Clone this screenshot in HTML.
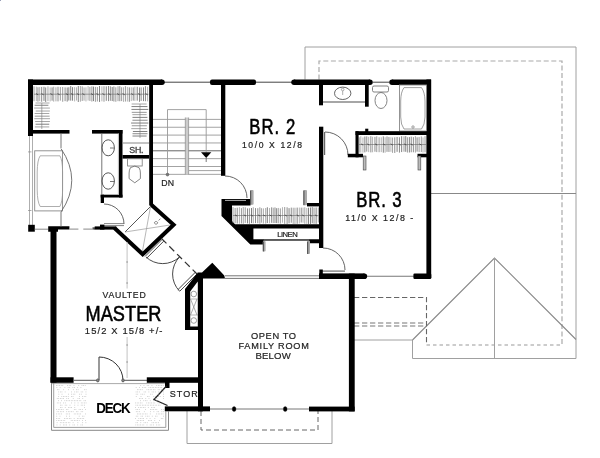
<!DOCTYPE html>
<html><head><meta charset="utf-8"><style>
html,body{margin:0;padding:0;background:#fff;}
body{width:600px;height:458px;overflow:hidden;}
svg{display:block;will-change:transform;}
text{font-family:"Liberation Sans",sans-serif;}
</style></head><body>
<svg width="600" height="458" viewBox="0 0 600 458">
<rect width="600" height="458" fill="#fff"/>
<polyline points="305,79.5 305,47 576,47 576,358.5 412.5,358.5 412.5,340 354,340" fill="none" stroke="#a0a0a0" stroke-width="1" stroke-linejoin="miter" stroke-linecap="butt"/>
<polyline points="319,79.5 319,61 562,61 562,345" fill="none" stroke="#aaa" stroke-width="1.2" stroke-linejoin="miter" stroke-linecap="butt" stroke-dasharray="5,2.6"/>
<line x1="426.5" y1="345" x2="562" y2="345" stroke="#999" stroke-width="1" stroke-dasharray="3.5,3"/>
<line x1="431" y1="193.5" x2="576" y2="193.5" stroke="#888" stroke-width="1.1"/>
<polyline points="412.5,340 494.5,258 576,339.5" fill="none" stroke="#888" stroke-width="1.1" stroke-linejoin="miter" stroke-linecap="butt"/>
<line x1="494.5" y1="258" x2="494.5" y2="358.5" stroke="#a0a0a0" stroke-width="1"/>
<polyline points="354,297.5 426.5,297.5 426.5,345" fill="none" stroke="#666" stroke-width="1.1" stroke-linejoin="miter" stroke-linecap="butt" stroke-dasharray="5.3,2.7"/>
<line x1="354" y1="323" x2="426.5" y2="323" stroke="#777" stroke-width="1.1" stroke-dasharray="5.3,2.7"/>
<line x1="354" y1="326" x2="426.5" y2="326" stroke="#777" stroke-width="1.1" stroke-dasharray="5.3,2.7"/>
<polyline points="187,411 187,443.5 332,443.5 332,411" fill="none" stroke="#a0a0a0" stroke-width="1" stroke-linejoin="miter" stroke-linecap="butt"/>
<polyline points="201,411 201,430 318,430 318,411" fill="none" stroke="#666" stroke-width="1" stroke-linejoin="miter" stroke-linecap="butt" stroke-dasharray="5,3"/>
<rect x="28" y="79.5" width="134" height="5.5" fill="#000"/>
<line x1="164" y1="82.2" x2="210" y2="82.2" stroke="#444" stroke-width="1"/>
<rect x="210" y="79.5" width="46" height="5.5" rx="2" fill="#000"/>
<line x1="256" y1="82.2" x2="292" y2="82.2" stroke="#444" stroke-width="1"/>
<circle cx="162" cy="82.25" r="2.75" fill="#000"/>
<circle cx="294" cy="82.25" r="2.75" fill="#000"/>
<circle cx="370" cy="82.25" r="2.75" fill="#000"/>
<circle cx="392" cy="82.25" r="2.75" fill="#000"/>
<rect x="294" y="79.5" width="76" height="5.5" fill="#000"/>
<line x1="372" y1="82.2" x2="390" y2="82.2" stroke="#444" stroke-width="1"/>
<rect x="392" y="79.5" width="39" height="5.5" fill="#000"/>
<rect x="426.4" y="79.5" width="4.8" height="198.5" fill="#000"/>
<rect x="319" y="273.4" width="45.5" height="5.6" fill="#000"/>
<circle cx="364.4" cy="276.2" r="2.8" fill="#000"/>
<line x1="367" y1="276.2" x2="414" y2="276.2" stroke="#777" stroke-width="1.1"/>
<rect x="413.4" y="273.5" width="17.9" height="5.5" rx="1.2" fill="#000"/>
<rect x="28" y="79.5" width="5" height="56.5" fill="#000"/>
<line x1="29.5" y1="136" x2="29.5" y2="225" stroke="#999" stroke-width="0.8"/>
<line x1="32.5" y1="136" x2="32.5" y2="225" stroke="#999" stroke-width="0.8"/>
<rect x="28.2" y="224.8" width="6.6" height="6.9" fill="#000"/>
<line x1="34.8" y1="229.2" x2="48.2" y2="229.2" stroke="#888" stroke-width="1"/>
<polygon points="48.2,226.25 69.4,226.25 69.4,229.6 58,229.6 58,231.7 48.2,231.7" fill="#000"/>
<rect x="50.5" y="231" width="6" height="151.6" fill="#000"/>
<rect x="50.5" y="377.3" width="23.1" height="5.5" fill="#000"/>
<line x1="73.6" y1="380.3" x2="99" y2="380.3" stroke="#555" stroke-width="1"/>
<line x1="123" y1="380.3" x2="147" y2="380.3" stroke="#555" stroke-width="1"/>
<rect x="146.8" y="377.3" width="51.2" height="5.5" fill="#000"/>
<line x1="99" y1="357" x2="99" y2="380" stroke="#555" stroke-width="1.2"/>
<path d="M99,357 A24,23.5 0 0 1 123,380.5" fill="none" stroke="#333" stroke-width="1"/>
<ellipse cx="97.8" cy="380.4" rx="1.3" ry="1.5" fill="#888" stroke="#555" stroke-width="0.8"/>
<ellipse cx="123" cy="380.4" rx="1.3" ry="1.5" fill="#888" stroke="#555" stroke-width="0.8"/>
<line x1="51.5" y1="383.6" x2="168.5" y2="383.6" stroke="#aaa" stroke-width="1"/>
<rect x="198" y="274" width="5" height="137.3" fill="#000"/>
<rect x="164.8" y="406.4" width="45.2" height="4.9" fill="#000"/>
<rect x="165" y="382" width="4.5" height="6" fill="#000"/>
<polyline points="166.5,386 154,399.5 167.5,405.5" fill="none" stroke="#222" stroke-width="1.3" stroke-linejoin="miter" stroke-linecap="butt"/>
<line x1="210" y1="409" x2="309" y2="409" stroke="#777" stroke-width="1"/>
<ellipse cx="234.1" cy="409" rx="1.9" ry="2.6" fill="#000" stroke="#000" stroke-width="0.3"/>
<ellipse cx="285.2" cy="409" rx="1.9" ry="2.6" fill="#000" stroke="#000" stroke-width="0.3"/>
<rect x="309" y="406.6" width="45.6" height="4.8" fill="#000"/>
<rect x="348.9" y="273.6" width="5.8" height="137.8" fill="#000"/>
<rect x="33" y="130" width="36.5" height="3.6" fill="#000"/>
<rect x="92" y="130" width="30.5" height="3.6" fill="#000"/>
<rect x="149.2" y="85" width="3.8" height="120.5" fill="#000"/>
<rect x="119" y="130" width="3.5" height="67.5" fill="#000"/>
<rect x="100.7" y="194.7" width="21.8" height="2.8" fill="#000"/>
<rect x="100.7" y="194.7" width="3.3" height="8.3" fill="#000"/>
<line x1="101.8" y1="133.6" x2="101.8" y2="195" stroke="#666" stroke-width="0.9"/>
<ellipse cx="108.2" cy="147.8" rx="6.2" ry="8" fill="none" stroke="#444" stroke-width="0.9"/>
<ellipse cx="108.2" cy="181" rx="6.2" ry="8.2" fill="none" stroke="#444" stroke-width="0.9"/>
<line x1="110" y1="148" x2="114.4" y2="148" stroke="#555" stroke-width="0.8"/>
<line x1="110" y1="181.5" x2="114.4" y2="181.5" stroke="#555" stroke-width="0.8"/>
<line x1="118.4" y1="133.6" x2="118.4" y2="194.7" stroke="#aaa" stroke-width="0.8"/>
<line x1="122.5" y1="143" x2="149" y2="143" stroke="#888" stroke-width="1"/>
<rect x="122.5" y="155" width="26.5" height="3.6" fill="#000"/>
<rect x="127" y="160" width="16.4" height="5" fill="none"/>
<rect x="127.6" y="158.8" width="14.6" height="7.2" fill="none" stroke="#777" stroke-width="0.8"/>
<path d="M130.5,167.6 Q134.8,164.6 139,167.6 Q140.5,170 140.4,173 L140.4,178.6 L134.8,182.8 L129.1,178.6 L129.1,173 Q129.1,170 130.5,167.6 Z" fill="none" stroke="#666" stroke-width="0.8"/>
<rect x="34.7" y="150.8" width="27.8" height="60.1" fill="none" stroke="#888" stroke-width="0.9"/>
<path d="M40.2,155.8 L59.9,155.8 Q62.5,160 62.6,172 L62.6,190 Q62.5,202 59.9,206.5 L40.2,206.5 Q37.3,202 37.2,190 L37.2,172 Q37.3,160 40.2,155.8 Z" fill="none" stroke="#999" stroke-width="0.8"/>
<line x1="61" y1="133.6" x2="61" y2="148" stroke="#666" stroke-width="0.9"/>
<line x1="61" y1="212" x2="61" y2="226.5" stroke="#666" stroke-width="0.9"/>
<path d="M61,148.6 Q82.5,180.3 61,212" fill="none" stroke="#666" stroke-width="0.9"/>
<line x1="28" y1="151.9" x2="31.5" y2="151.9" stroke="#888" stroke-width="0.7"/>
<line x1="28" y1="210.5" x2="31.5" y2="210.5" stroke="#888" stroke-width="0.7"/>
<path d="M104,204 A20,20 0 0 1 124,224" fill="none" stroke="#555" stroke-width="0.9"/>
<line x1="104" y1="223.6" x2="124" y2="223.6" stroke="#666" stroke-width="0.8"/>
<line x1="104" y1="225.6" x2="124" y2="225.6" stroke="#666" stroke-width="0.8"/>
<line x1="69.4" y1="229.1" x2="78.4" y2="229.1" stroke="#888" stroke-width="1"/>
<line x1="83.3" y1="229.1" x2="92.5" y2="229.1" stroke="#888" stroke-width="1"/>
<rect x="92.5" y="227.3" width="2.5" height="2.3" fill="#555"/>
<rect x="94.7" y="226.4" width="21.6" height="3.2" fill="#000"/>
<rect x="100" y="224.6" width="4.4" height="5" fill="#000"/>
<polyline points="114.5,228 142.7,254.3 173.6,224.8 151,204.6" fill="none" stroke="#000" stroke-width="4" stroke-linejoin="miter" stroke-linecap="butt"/>
<line x1="125" y1="232" x2="150.5" y2="206.5" stroke="#444" stroke-width="0.9"/>
<line x1="125" y1="232" x2="170" y2="225" stroke="#999" stroke-width="0.7"/>
<line x1="150.5" y1="206.5" x2="142.5" y2="251" stroke="#999" stroke-width="0.7"/>
<path d="M156,221.5 a1.6,1.3 0 1 0 0.1,0 M158.6,220.5 l1.8,-1.8" fill="none" stroke="#555" stroke-width="0.7"/>
<line x1="161.5" y1="238.5" x2="197.5" y2="274.5" stroke="#333" stroke-width="1.2" stroke-dasharray="7,4"/>
<line x1="162" y1="239.5" x2="145" y2="256.5" stroke="#333" stroke-width="0.9"/>
<line x1="163.7" y1="241.2" x2="146.7" y2="258.2" stroke="#333" stroke-width="0.9"/>
<path d="M146,257 A24.5,24.5 0 0 0 179.5,257" fill="none" stroke="#333" stroke-width="0.9"/>
<line x1="197" y1="274" x2="179.6" y2="291.4" stroke="#333" stroke-width="0.9"/>
<line x1="195.3" y1="272.3" x2="177.9" y2="289.7" stroke="#333" stroke-width="0.9"/>
<path d="M179.5,257 A24.5,24.5 0 0 0 179.4,291" fill="none" stroke="#333" stroke-width="0.9"/>
<polygon points="197.5,272.6 202,272.6 212.3,262.8 224.3,275.6 225,278.5 197.5,278.5" fill="#000"/>
<line x1="225" y1="275.8" x2="319" y2="275.8" stroke="#666" stroke-width="0.9"/>
<line x1="225" y1="278.4" x2="319" y2="278.4" stroke="#666" stroke-width="0.9"/>
<polygon points="185,330 185,289 197,273.5 203,273.5 203,330" fill="#000"/>
<polygon points="190.2,326.5 190.2,291.5 197.8,281.5 197.8,326.5" fill="#fff"/>
<ellipse cx="193.8" cy="294" rx="2.8" ry="2.8" fill="none" stroke="#777" stroke-width="0.7"/>
<ellipse cx="193.8" cy="320.5" rx="2.8" ry="2.8" fill="none" stroke="#777" stroke-width="0.7"/>
<line x1="190.5" y1="299" x2="197" y2="315" stroke="#888" stroke-width="0.7"/>
<line x1="197" y1="299" x2="190.5" y2="315" stroke="#888" stroke-width="0.7"/>
<line x1="190" y1="299" x2="198" y2="299" stroke="#888" stroke-width="0.6"/>
<line x1="190" y1="315" x2="198" y2="315" stroke="#888" stroke-width="0.6"/>
<line x1="153" y1="119.4" x2="221" y2="119.4" stroke="#999" stroke-width="0.9"/>
<line x1="153" y1="127.25" x2="221" y2="127.25" stroke="#999" stroke-width="0.9"/>
<line x1="153" y1="135.1" x2="221" y2="135.1" stroke="#999" stroke-width="0.9"/>
<line x1="153" y1="142.95" x2="221" y2="142.95" stroke="#999" stroke-width="0.9"/>
<line x1="153" y1="150.8" x2="221" y2="150.8" stroke="#666" stroke-width="1"/>
<line x1="153" y1="158.65" x2="221" y2="158.65" stroke="#999" stroke-width="0.9"/>
<line x1="153" y1="166.5" x2="221" y2="166.5" stroke="#999" stroke-width="0.9"/>
<line x1="153" y1="174.35" x2="221" y2="174.35" stroke="#999" stroke-width="0.9"/>
<polyline points="167.5,174.6 167.5,109.6 206.2,109.6 206.2,152.5" fill="none" stroke="#999" stroke-width="0.9" stroke-linejoin="miter" stroke-linecap="butt"/>
<line x1="189" y1="170.6" x2="221" y2="170.6" stroke="#999" stroke-width="0.9"/>
<rect x="185.3" y="117.5" width="3.3" height="57" fill="#ccc"/>
<line x1="185.3" y1="117.5" x2="185.3" y2="174.5" stroke="#888" stroke-width="0.7"/>
<line x1="188.6" y1="117.5" x2="188.6" y2="174.5" stroke="#888" stroke-width="0.7"/>
<polygon points="201,152.2 211.3,152.2 206.2,158" fill="#000"/>
<line x1="206.2" y1="158" x2="206.2" y2="162" stroke="#555" stroke-width="0.8"/>
<ellipse cx="167.5" cy="174.6" rx="1.4" ry="1.4" fill="#777" stroke="#555" stroke-width="0.6"/>
<rect x="221" y="85" width="4.3" height="90.8" fill="#000"/>
<path d="M225,176 A22,22 0 0 1 247,198" fill="none" stroke="#555" stroke-width="0.9"/>
<rect x="319" y="85" width="4" height="20.3" fill="#000"/>
<rect x="365" y="85" width="3.7" height="21.7" fill="#000"/>
<line x1="323" y1="102" x2="365" y2="102" stroke="#888" stroke-width="1.4"/>
<ellipse cx="342.7" cy="93.3" rx="8.2" ry="6.2" fill="none" stroke="#555" stroke-width="0.9"/>
<ellipse cx="342.7" cy="89.5" rx="1.3" ry="1.3" fill="none" stroke="#777" stroke-width="0.6"/>
<line x1="342.7" y1="91" x2="342.7" y2="95" stroke="#777" stroke-width="0.6"/>
<rect x="372.5" y="86" width="16" height="6" rx="1.5" fill="none" stroke="#666" stroke-width="0.8"/>
<ellipse cx="381" cy="100.5" rx="6" ry="8" fill="none" stroke="#666" stroke-width="0.8"/>
<rect x="399.5" y="85" width="27" height="46" fill="none" stroke="#888" stroke-width="0.9"/>
<path d="M404,87.6 L421.5,87.6 Q424.8,92 425,101 L425,117 Q424.8,125 421.5,129 L404,129 Q400.8,125 400.7,117 L400.7,101 Q400.8,92 404,87.6 Z" fill="none" stroke="#888" stroke-width="0.8"/>
<ellipse cx="413" cy="127" rx="1.2" ry="1.2" fill="none" stroke="#777" stroke-width="0.7"/>
<rect x="319" y="126.7" width="4.3" height="121.3" fill="#000"/>
<line x1="324.6" y1="132" x2="324.6" y2="155" stroke="#666" stroke-width="1.2"/>
<path d="M325,132 A23,23 0 0 1 348,155" fill="none" stroke="#555" stroke-width="0.9"/>
<rect x="347.8" y="153.8" width="15.2" height="3.5" fill="#000"/>
<rect x="355.5" y="131.2" width="3.1" height="26.1" fill="#000"/>
<rect x="355.5" y="131.2" width="71.5" height="3.8" fill="#000"/>
<rect x="365.2" y="128.7" width="3.1" height="3.3" fill="#000"/>
<rect x="417.5" y="153.8" width="9.5" height="3.5" fill="#000"/>
<rect x="363.2" y="156" width="2.8" height="14" fill="#bbb" stroke="#444" stroke-width="0.6"/>
<rect x="418" y="156" width="2.8" height="14" fill="#bbb" stroke="#444" stroke-width="0.6"/>
<polygon points="221.5,199 250.5,199 250.5,205.5 232,205.5 232,221 235,224.2 319.5,224.2 319.5,228.5 253.4,228.5 253.4,239.3 319.5,239.3 319.5,243.3 309.5,243.3 309.5,240.8 263,240.8 263,244.6 250.3,244.6 221.5,216" fill="#000"/>
<line x1="225" y1="200.4" x2="246" y2="200.4" stroke="#fff" stroke-width="0.7"/>
<line x1="264" y1="240.1" x2="309" y2="240.1" stroke="#888" stroke-width="0.9"/>
<rect x="307" y="203" width="12.6" height="3.4" fill="#000"/>
<rect x="262.8" y="241" width="2.8" height="10.5" rx="1" fill="#aaa"/>
<line x1="263.3" y1="241.5" x2="263.3" y2="251.5" stroke="#444" stroke-width="1"/>
<rect x="307.2" y="241" width="2.8" height="13" rx="1" fill="#aaa"/>
<line x1="307.7" y1="241.5" x2="307.7" y2="254" stroke="#444" stroke-width="1"/>
<rect x="250.2" y="190" width="3.4" height="14.699999999999989" rx="1" fill="#aaa"/>
<line x1="250.7" y1="190.5" x2="250.7" y2="204.7" stroke="#444" stroke-width="1"/>
<rect x="303.4" y="190" width="3.6" height="15.199999999999989" rx="1" fill="#aaa"/>
<line x1="303.9" y1="190.5" x2="303.9" y2="205.2" stroke="#444" stroke-width="1"/>
<path d="M323,248 A22,22 0 0 1 345,270" fill="none" stroke="#555" stroke-width="0.9"/>
<line x1="321" y1="271.1" x2="345" y2="271.1" stroke="#777" stroke-width="1.3"/>
<rect x="319.3" y="269.5" width="3.5" height="4.5" fill="#000"/>
<line x1="34" y1="86.36" x2="34" y2="101.18" stroke="#777" stroke-width="0.75"/>
<line x1="36.33" y1="86.71" x2="36.33" y2="101.13" stroke="#999" stroke-width="0.75"/>
<line x1="37.94" y1="87.26" x2="37.94" y2="101.61" stroke="#666" stroke-width="0.75"/>
<line x1="39.7" y1="87.08" x2="39.7" y2="101.19" stroke="#999" stroke-width="0.75"/>
<line x1="41.68" y1="86.96" x2="41.68" y2="101.77" stroke="#666" stroke-width="0.75"/>
<line x1="43.97" y1="86.78" x2="43.97" y2="100.89" stroke="#555" stroke-width="0.75"/>
<line x1="45.7" y1="87.44" x2="45.7" y2="101.94" stroke="#555" stroke-width="0.75"/>
<line x1="47.96" y1="86.4" x2="47.96" y2="101.11" stroke="#888" stroke-width="0.75"/>
<line x1="50.13" y1="87.38" x2="50.13" y2="101.41" stroke="#999" stroke-width="0.75"/>
<line x1="52.09" y1="87.4" x2="52.09" y2="100.68" stroke="#555" stroke-width="0.75"/>
<line x1="53.71" y1="86.74" x2="53.71" y2="101.61" stroke="#888" stroke-width="0.75"/>
<line x1="55.94" y1="87.28" x2="55.94" y2="101.37" stroke="#888" stroke-width="0.75"/>
<line x1="58" y1="86.8" x2="58" y2="101.39" stroke="#666" stroke-width="0.75"/>
<line x1="60.32" y1="87.02" x2="60.32" y2="100.61" stroke="#777" stroke-width="0.75"/>
<line x1="62.71" y1="87.01" x2="62.71" y2="101.76" stroke="#777" stroke-width="0.75"/>
<line x1="65.08" y1="87.36" x2="65.08" y2="101.15" stroke="#666" stroke-width="0.75"/>
<line x1="67.19" y1="87.48" x2="67.19" y2="101.6" stroke="#555" stroke-width="0.75"/>
<line x1="68.84" y1="87.28" x2="68.84" y2="100.52" stroke="#555" stroke-width="0.75"/>
<line x1="70.72" y1="86.1" x2="70.72" y2="100.65" stroke="#555" stroke-width="0.75"/>
<line x1="72.55" y1="87.15" x2="72.55" y2="100.69" stroke="#555" stroke-width="0.75"/>
<line x1="74.64" y1="87.14" x2="74.64" y2="101.43" stroke="#999" stroke-width="0.75"/>
<line x1="76.5" y1="87.32" x2="76.5" y2="100.53" stroke="#999" stroke-width="0.75"/>
<line x1="78.29" y1="86.05" x2="78.29" y2="101.99" stroke="#555" stroke-width="0.75"/>
<line x1="80.37" y1="86.05" x2="80.37" y2="101.7" stroke="#888" stroke-width="0.75"/>
<line x1="82.2" y1="86.4" x2="82.2" y2="100.97" stroke="#777" stroke-width="0.75"/>
<line x1="84.05" y1="87.44" x2="84.05" y2="100.66" stroke="#888" stroke-width="0.75"/>
<line x1="85.96" y1="87.3" x2="85.96" y2="101.42" stroke="#999" stroke-width="0.75"/>
<line x1="88.1" y1="86.15" x2="88.1" y2="100.54" stroke="#999" stroke-width="0.75"/>
<line x1="89.92" y1="86.95" x2="89.92" y2="100.93" stroke="#777" stroke-width="0.75"/>
<line x1="91.87" y1="86.39" x2="91.87" y2="101.55" stroke="#777" stroke-width="0.75"/>
<line x1="93.48" y1="86.62" x2="93.48" y2="101.13" stroke="#555" stroke-width="0.75"/>
<line x1="95.38" y1="86.88" x2="95.38" y2="101.8" stroke="#777" stroke-width="0.75"/>
<line x1="97.35" y1="87.02" x2="97.35" y2="101.47" stroke="#777" stroke-width="0.75"/>
<line x1="99.54" y1="86.03" x2="99.54" y2="101.91" stroke="#555" stroke-width="0.75"/>
<line x1="101.91" y1="86.38" x2="101.91" y2="101.32" stroke="#999" stroke-width="0.75"/>
<line x1="103.99" y1="86.27" x2="103.99" y2="101.72" stroke="#777" stroke-width="0.75"/>
<line x1="106.27" y1="86.4" x2="106.27" y2="100.82" stroke="#555" stroke-width="0.75"/>
<line x1="108.49" y1="86.04" x2="108.49" y2="101.15" stroke="#666" stroke-width="0.75"/>
<line x1="110.33" y1="86.33" x2="110.33" y2="100.79" stroke="#666" stroke-width="0.75"/>
<line x1="112.2" y1="87.02" x2="112.2" y2="101.03" stroke="#555" stroke-width="0.75"/>
<line x1="113.88" y1="86.48" x2="113.88" y2="101.5" stroke="#666" stroke-width="0.75"/>
<line x1="115.83" y1="87.28" x2="115.83" y2="101.75" stroke="#777" stroke-width="0.75"/>
<line x1="118.02" y1="86.33" x2="118.02" y2="101.15" stroke="#777" stroke-width="0.75"/>
<line x1="119.8" y1="86.18" x2="119.8" y2="101.21" stroke="#666" stroke-width="0.75"/>
<line x1="121.65" y1="87.25" x2="121.65" y2="101.14" stroke="#777" stroke-width="0.75"/>
<line x1="123.53" y1="87.24" x2="123.53" y2="101.87" stroke="#999" stroke-width="0.75"/>
<line x1="125.4" y1="86.19" x2="125.4" y2="101.56" stroke="#777" stroke-width="0.75"/>
<line x1="127.37" y1="86.95" x2="127.37" y2="101.56" stroke="#999" stroke-width="0.75"/>
<line x1="129.3" y1="87.38" x2="129.3" y2="101.77" stroke="#555" stroke-width="0.75"/>
<line x1="131.28" y1="87.25" x2="131.28" y2="101.07" stroke="#999" stroke-width="0.75"/>
<line x1="133.23" y1="87.43" x2="133.23" y2="100.61" stroke="#666" stroke-width="0.75"/>
<line x1="134.86" y1="86.69" x2="134.86" y2="100.87" stroke="#999" stroke-width="0.75"/>
<line x1="137.23" y1="86.82" x2="137.23" y2="100.67" stroke="#555" stroke-width="0.75"/>
<line x1="139.51" y1="87.46" x2="139.51" y2="101.82" stroke="#666" stroke-width="0.75"/>
<line x1="141.15" y1="87.36" x2="141.15" y2="100.96" stroke="#666" stroke-width="0.75"/>
<line x1="143.47" y1="87.35" x2="143.47" y2="101.13" stroke="#555" stroke-width="0.75"/>
<line x1="145.45" y1="86.18" x2="145.45" y2="101.25" stroke="#666" stroke-width="0.75"/>
<line x1="147.58" y1="86.79" x2="147.58" y2="101.38" stroke="#999" stroke-width="0.75"/>
<line x1="34" y1="94.2" x2="148.5" y2="94.2" stroke="#666" stroke-width="0.6"/>
<line x1="36" y1="93.6" x2="38.2" y2="94.8" stroke="#444" stroke-width="0.8"/>
<line x1="41.5" y1="93.6" x2="43.7" y2="94.8" stroke="#444" stroke-width="0.8"/>
<line x1="50.39" y1="93.6" x2="52.59" y2="94.8" stroke="#444" stroke-width="0.8"/>
<line x1="57.55" y1="93.6" x2="59.75" y2="94.8" stroke="#444" stroke-width="0.8"/>
<line x1="65.8" y1="93.6" x2="68" y2="94.8" stroke="#444" stroke-width="0.8"/>
<line x1="71.05" y1="93.6" x2="73.25" y2="94.8" stroke="#444" stroke-width="0.8"/>
<line x1="76.93" y1="93.6" x2="79.13" y2="94.8" stroke="#444" stroke-width="0.8"/>
<line x1="82.42" y1="93.6" x2="84.62" y2="94.8" stroke="#444" stroke-width="0.8"/>
<line x1="90.97" y1="93.6" x2="93.17" y2="94.8" stroke="#444" stroke-width="0.8"/>
<line x1="96.44" y1="93.6" x2="98.64" y2="94.8" stroke="#444" stroke-width="0.8"/>
<line x1="102.4" y1="93.6" x2="104.6" y2="94.8" stroke="#444" stroke-width="0.8"/>
<line x1="108.5" y1="93.6" x2="110.7" y2="94.8" stroke="#444" stroke-width="0.8"/>
<line x1="117.06" y1="93.6" x2="119.26" y2="94.8" stroke="#444" stroke-width="0.8"/>
<line x1="122.57" y1="93.6" x2="124.77" y2="94.8" stroke="#444" stroke-width="0.8"/>
<line x1="131.25" y1="93.6" x2="133.45" y2="94.8" stroke="#444" stroke-width="0.8"/>
<line x1="138.2" y1="93.6" x2="140.4" y2="94.8" stroke="#444" stroke-width="0.8"/>
<line x1="145.49" y1="93.6" x2="147.69" y2="94.8" stroke="#444" stroke-width="0.8"/>
<line x1="35.51" y1="103" x2="49.5" y2="103" stroke="#888" stroke-width="0.75"/>
<line x1="34.65" y1="105.25" x2="48.36" y2="105.25" stroke="#555" stroke-width="0.75"/>
<line x1="34.09" y1="108.06" x2="49.9" y2="108.06" stroke="#888" stroke-width="0.75"/>
<line x1="35.71" y1="111.03" x2="49.83" y2="111.03" stroke="#888" stroke-width="0.75"/>
<line x1="34.63" y1="113.49" x2="49.3" y2="113.49" stroke="#888" stroke-width="0.75"/>
<line x1="34.72" y1="116.16" x2="49.62" y2="116.16" stroke="#777" stroke-width="0.75"/>
<line x1="34.26" y1="118.7" x2="49.99" y2="118.7" stroke="#888" stroke-width="0.75"/>
<line x1="35.13" y1="121.53" x2="49.91" y2="121.53" stroke="#888" stroke-width="0.75"/>
<line x1="35.57" y1="124.21" x2="49.24" y2="124.21" stroke="#555" stroke-width="0.75"/>
<line x1="34.86" y1="126.91" x2="49.26" y2="126.91" stroke="#888" stroke-width="0.75"/>
<line x1="41.8" y1="103" x2="41.8" y2="129" stroke="#777" stroke-width="0.6"/>
<line x1="131.63" y1="104" x2="146.6" y2="104" stroke="#888" stroke-width="0.75"/>
<line x1="131.49" y1="106.57" x2="147.43" y2="106.57" stroke="#555" stroke-width="0.75"/>
<line x1="131.45" y1="109.41" x2="148.24" y2="109.41" stroke="#555" stroke-width="0.75"/>
<line x1="131.75" y1="112.35" x2="146.7" y2="112.35" stroke="#777" stroke-width="0.75"/>
<line x1="132.38" y1="114.65" x2="146.62" y2="114.65" stroke="#888" stroke-width="0.75"/>
<line x1="132.47" y1="117.38" x2="147.37" y2="117.38" stroke="#555" stroke-width="0.75"/>
<line x1="132.43" y1="120.22" x2="147.55" y2="120.22" stroke="#666" stroke-width="0.75"/>
<line x1="131.09" y1="123.04" x2="148.32" y2="123.04" stroke="#555" stroke-width="0.75"/>
<line x1="131.75" y1="125.76" x2="146.86" y2="125.76" stroke="#777" stroke-width="0.75"/>
<line x1="131.24" y1="128.63" x2="146.81" y2="128.63" stroke="#888" stroke-width="0.75"/>
<line x1="132.9" y1="131.49" x2="147.34" y2="131.49" stroke="#555" stroke-width="0.75"/>
<line x1="132.53" y1="133.73" x2="147.48" y2="133.73" stroke="#666" stroke-width="0.75"/>
<line x1="132.5" y1="136.02" x2="146.63" y2="136.02" stroke="#555" stroke-width="0.75"/>
<line x1="140" y1="104" x2="140" y2="138" stroke="#777" stroke-width="0.6"/>
<line x1="359" y1="137.3" x2="359" y2="152.73" stroke="#555" stroke-width="0.75"/>
<line x1="360.79" y1="136.27" x2="360.79" y2="152.63" stroke="#999" stroke-width="0.75"/>
<line x1="362.95" y1="137.41" x2="362.95" y2="152.62" stroke="#999" stroke-width="0.75"/>
<line x1="364.87" y1="136.53" x2="364.87" y2="152.37" stroke="#555" stroke-width="0.75"/>
<line x1="366.77" y1="136.35" x2="366.77" y2="151.61" stroke="#666" stroke-width="0.75"/>
<line x1="368.7" y1="136.85" x2="368.7" y2="152.13" stroke="#999" stroke-width="0.75"/>
<line x1="370.85" y1="136.23" x2="370.85" y2="152.4" stroke="#666" stroke-width="0.75"/>
<line x1="372.58" y1="136.75" x2="372.58" y2="152.27" stroke="#999" stroke-width="0.75"/>
<line x1="374.94" y1="136.88" x2="374.94" y2="151.71" stroke="#666" stroke-width="0.75"/>
<line x1="376.76" y1="136.3" x2="376.76" y2="152.12" stroke="#777" stroke-width="0.75"/>
<line x1="379.1" y1="137.28" x2="379.1" y2="152.19" stroke="#777" stroke-width="0.75"/>
<line x1="381.24" y1="137.28" x2="381.24" y2="152.11" stroke="#999" stroke-width="0.75"/>
<line x1="383.31" y1="136.4" x2="383.31" y2="152.67" stroke="#555" stroke-width="0.75"/>
<line x1="385.12" y1="137.21" x2="385.12" y2="152.7" stroke="#999" stroke-width="0.75"/>
<line x1="387.01" y1="136.48" x2="387.01" y2="151.84" stroke="#666" stroke-width="0.75"/>
<line x1="388.95" y1="137.05" x2="388.95" y2="151.95" stroke="#666" stroke-width="0.75"/>
<line x1="390.92" y1="137.25" x2="390.92" y2="151.77" stroke="#999" stroke-width="0.75"/>
<line x1="392.54" y1="137.49" x2="392.54" y2="152.89" stroke="#888" stroke-width="0.75"/>
<line x1="394.77" y1="137.32" x2="394.77" y2="152.93" stroke="#666" stroke-width="0.75"/>
<line x1="397.08" y1="136.97" x2="397.08" y2="151.83" stroke="#555" stroke-width="0.75"/>
<line x1="399.45" y1="137.28" x2="399.45" y2="152.64" stroke="#666" stroke-width="0.75"/>
<line x1="401.67" y1="136.21" x2="401.67" y2="152.07" stroke="#555" stroke-width="0.75"/>
<line x1="403.99" y1="136.38" x2="403.99" y2="151.7" stroke="#777" stroke-width="0.75"/>
<line x1="405.74" y1="136.14" x2="405.74" y2="151.8" stroke="#555" stroke-width="0.75"/>
<line x1="407.41" y1="137.25" x2="407.41" y2="152.56" stroke="#777" stroke-width="0.75"/>
<line x1="409.37" y1="137.1" x2="409.37" y2="152.5" stroke="#555" stroke-width="0.75"/>
<line x1="411.24" y1="136.65" x2="411.24" y2="152.27" stroke="#666" stroke-width="0.75"/>
<line x1="413.36" y1="137.11" x2="413.36" y2="152.27" stroke="#666" stroke-width="0.75"/>
<line x1="415.39" y1="136.18" x2="415.39" y2="152.59" stroke="#888" stroke-width="0.75"/>
<line x1="417.08" y1="137.33" x2="417.08" y2="151.64" stroke="#555" stroke-width="0.75"/>
<line x1="419.1" y1="137.05" x2="419.1" y2="151.98" stroke="#777" stroke-width="0.75"/>
<line x1="421.31" y1="136.44" x2="421.31" y2="151.99" stroke="#777" stroke-width="0.75"/>
<line x1="423" y1="137.42" x2="423" y2="152.49" stroke="#999" stroke-width="0.75"/>
<line x1="425.02" y1="136.17" x2="425.02" y2="152.26" stroke="#777" stroke-width="0.75"/>
<line x1="359" y1="144.5" x2="426" y2="144.5" stroke="#666" stroke-width="0.6"/>
<line x1="361" y1="143.9" x2="363.2" y2="145.1" stroke="#444" stroke-width="0.8"/>
<line x1="367.18" y1="143.9" x2="369.38" y2="145.1" stroke="#444" stroke-width="0.8"/>
<line x1="375.09" y1="143.9" x2="377.29" y2="145.1" stroke="#444" stroke-width="0.8"/>
<line x1="383.06" y1="143.9" x2="385.26" y2="145.1" stroke="#444" stroke-width="0.8"/>
<line x1="390.64" y1="143.9" x2="392.84" y2="145.1" stroke="#444" stroke-width="0.8"/>
<line x1="398.56" y1="143.9" x2="400.76" y2="145.1" stroke="#444" stroke-width="0.8"/>
<line x1="404.16" y1="143.9" x2="406.36" y2="145.1" stroke="#444" stroke-width="0.8"/>
<line x1="410.64" y1="143.9" x2="412.84" y2="145.1" stroke="#444" stroke-width="0.8"/>
<line x1="419.32" y1="143.9" x2="421.52" y2="145.1" stroke="#444" stroke-width="0.8"/>
<line x1="233" y1="207.16" x2="233" y2="223.16" stroke="#777" stroke-width="0.75"/>
<line x1="235.12" y1="207.97" x2="235.12" y2="223.37" stroke="#777" stroke-width="0.75"/>
<line x1="237.23" y1="207.69" x2="237.23" y2="223.53" stroke="#666" stroke-width="0.75"/>
<line x1="239.4" y1="207.16" x2="239.4" y2="223.73" stroke="#999" stroke-width="0.75"/>
<line x1="241.43" y1="208.11" x2="241.43" y2="223.46" stroke="#777" stroke-width="0.75"/>
<line x1="243.25" y1="207.08" x2="243.25" y2="223.8" stroke="#888" stroke-width="0.75"/>
<line x1="245.25" y1="207.37" x2="245.25" y2="222.85" stroke="#777" stroke-width="0.75"/>
<line x1="247.55" y1="208.42" x2="247.55" y2="223.33" stroke="#555" stroke-width="0.75"/>
<line x1="249.44" y1="208.27" x2="249.44" y2="223.83" stroke="#777" stroke-width="0.75"/>
<line x1="251.51" y1="208.02" x2="251.51" y2="223.15" stroke="#555" stroke-width="0.75"/>
<line x1="253.26" y1="207.28" x2="253.26" y2="223.38" stroke="#888" stroke-width="0.75"/>
<line x1="255.51" y1="208.12" x2="255.51" y2="223.11" stroke="#666" stroke-width="0.75"/>
<line x1="257.8" y1="208.2" x2="257.8" y2="223.18" stroke="#666" stroke-width="0.75"/>
<line x1="259.85" y1="207.3" x2="259.85" y2="223.62" stroke="#777" stroke-width="0.75"/>
<line x1="261.47" y1="208.2" x2="261.47" y2="222.66" stroke="#888" stroke-width="0.75"/>
<line x1="263.33" y1="208.36" x2="263.33" y2="223.54" stroke="#888" stroke-width="0.75"/>
<line x1="265.71" y1="208.03" x2="265.71" y2="223.55" stroke="#888" stroke-width="0.75"/>
<line x1="267.33" y1="207.29" x2="267.33" y2="223.05" stroke="#555" stroke-width="0.75"/>
<line x1="269.55" y1="207.99" x2="269.55" y2="223.26" stroke="#999" stroke-width="0.75"/>
<line x1="271.65" y1="207.3" x2="271.65" y2="222.83" stroke="#666" stroke-width="0.75"/>
<line x1="273.28" y1="207.75" x2="273.28" y2="223.03" stroke="#888" stroke-width="0.75"/>
<line x1="274.97" y1="207.42" x2="274.97" y2="223.01" stroke="#666" stroke-width="0.75"/>
<line x1="276.68" y1="208.19" x2="276.68" y2="223.07" stroke="#555" stroke-width="0.75"/>
<line x1="278.3" y1="207.93" x2="278.3" y2="223.24" stroke="#888" stroke-width="0.75"/>
<line x1="280.33" y1="208.39" x2="280.33" y2="223.52" stroke="#777" stroke-width="0.75"/>
<line x1="282.48" y1="207.2" x2="282.48" y2="222.71" stroke="#999" stroke-width="0.75"/>
<line x1="284.7" y1="207.05" x2="284.7" y2="223.88" stroke="#777" stroke-width="0.75"/>
<line x1="287.1" y1="207.31" x2="287.1" y2="223.9" stroke="#666" stroke-width="0.75"/>
<line x1="289.05" y1="208.14" x2="289.05" y2="223.27" stroke="#555" stroke-width="0.75"/>
<line x1="291.28" y1="207.61" x2="291.28" y2="222.73" stroke="#666" stroke-width="0.75"/>
<line x1="293.2" y1="207.71" x2="293.2" y2="223.9" stroke="#888" stroke-width="0.75"/>
<line x1="294.96" y1="207.73" x2="294.96" y2="223.96" stroke="#888" stroke-width="0.75"/>
<line x1="297.17" y1="207.6" x2="297.17" y2="223.73" stroke="#555" stroke-width="0.75"/>
<line x1="299.34" y1="207.55" x2="299.34" y2="223.44" stroke="#999" stroke-width="0.75"/>
<line x1="301.23" y1="207.6" x2="301.23" y2="222.55" stroke="#666" stroke-width="0.75"/>
<line x1="303.04" y1="207.55" x2="303.04" y2="222.72" stroke="#999" stroke-width="0.75"/>
<line x1="304.8" y1="207.31" x2="304.8" y2="223.74" stroke="#888" stroke-width="0.75"/>
<line x1="306.8" y1="207.96" x2="306.8" y2="223.79" stroke="#999" stroke-width="0.75"/>
<line x1="308.53" y1="207.74" x2="308.53" y2="223.91" stroke="#555" stroke-width="0.75"/>
<line x1="310.46" y1="207.48" x2="310.46" y2="223.95" stroke="#555" stroke-width="0.75"/>
<line x1="312.25" y1="207.06" x2="312.25" y2="223.26" stroke="#666" stroke-width="0.75"/>
<line x1="314.04" y1="207.58" x2="314.04" y2="223.71" stroke="#777" stroke-width="0.75"/>
<line x1="316.14" y1="207.52" x2="316.14" y2="223.81" stroke="#555" stroke-width="0.75"/>
<line x1="318.38" y1="207.44" x2="318.38" y2="222.53" stroke="#888" stroke-width="0.75"/>
<line x1="233" y1="215.5" x2="318.5" y2="215.5" stroke="#666" stroke-width="0.6"/>
<line x1="235" y1="214.9" x2="237.2" y2="216.1" stroke="#444" stroke-width="0.8"/>
<line x1="243.85" y1="214.9" x2="246.05" y2="216.1" stroke="#444" stroke-width="0.8"/>
<line x1="250.8" y1="214.9" x2="253" y2="216.1" stroke="#444" stroke-width="0.8"/>
<line x1="258.05" y1="214.9" x2="260.25" y2="216.1" stroke="#444" stroke-width="0.8"/>
<line x1="263.17" y1="214.9" x2="265.37" y2="216.1" stroke="#444" stroke-width="0.8"/>
<line x1="269.51" y1="214.9" x2="271.71" y2="216.1" stroke="#444" stroke-width="0.8"/>
<line x1="278.48" y1="214.9" x2="280.68" y2="216.1" stroke="#444" stroke-width="0.8"/>
<line x1="284.75" y1="214.9" x2="286.95" y2="216.1" stroke="#444" stroke-width="0.8"/>
<line x1="289.98" y1="214.9" x2="292.18" y2="216.1" stroke="#444" stroke-width="0.8"/>
<line x1="296.72" y1="214.9" x2="298.92" y2="216.1" stroke="#444" stroke-width="0.8"/>
<line x1="302.08" y1="214.9" x2="304.28" y2="216.1" stroke="#444" stroke-width="0.8"/>
<line x1="309.55" y1="214.9" x2="311.75" y2="216.1" stroke="#444" stroke-width="0.8"/>
<line x1="314.97" y1="214.9" x2="317.17" y2="216.1" stroke="#444" stroke-width="0.8"/>
<line x1="127.1" y1="242" x2="127.1" y2="288.5" stroke="#bbb" stroke-width="0.9"/>
<line x1="127.1" y1="337" x2="127.1" y2="378" stroke="#bbb" stroke-width="0.9"/>
<line x1="126.3" y1="262" x2="127.9" y2="262" stroke="#777" stroke-width="0.8"/>
<line x1="126.3" y1="283" x2="127.9" y2="283" stroke="#777" stroke-width="0.8"/>
<line x1="126.3" y1="345" x2="127.9" y2="345" stroke="#777" stroke-width="0.8"/>
<line x1="126.3" y1="362" x2="127.9" y2="362" stroke="#777" stroke-width="0.8"/>
<polyline points="51.5,383 51.5,430.3 168.5,430.3 168.5,411" fill="none" stroke="#888" stroke-width="1" stroke-linejoin="miter" stroke-linecap="butt"/>
<polyline points="53.7,383 53.7,427.4 165.8,427.4 165.8,411" fill="none" stroke="#888" stroke-width="0.8" stroke-linejoin="miter" stroke-linecap="butt"/>
<rect x="56.02" y="385" width="0.7" height="0.7" fill="#aaa"/>
<rect x="57.62" y="385" width="0.7" height="0.7" fill="#aaa"/>
<rect x="59.22" y="385" width="0.7" height="0.7" fill="#aaa"/>
<rect x="60.82" y="385" width="0.7" height="0.7" fill="#aaa"/>
<rect x="62.42" y="385" width="0.7" height="0.7" fill="#aaa"/>
<rect x="67.22" y="385" width="0.7" height="0.7" fill="#aaa"/>
<rect x="68.82" y="385" width="0.7" height="0.7" fill="#aaa"/>
<rect x="70.42" y="385" width="0.7" height="0.7" fill="#aaa"/>
<rect x="73.62" y="385" width="0.7" height="0.7" fill="#aaa"/>
<rect x="78.42" y="385" width="0.7" height="0.7" fill="#aaa"/>
<rect x="81.62" y="385" width="0.7" height="0.7" fill="#aaa"/>
<rect x="83.22" y="385" width="0.7" height="0.7" fill="#aaa"/>
<rect x="84.82" y="385" width="0.7" height="0.7" fill="#aaa"/>
<rect x="56.55" y="387.2" width="0.7" height="0.7" fill="#aaa"/>
<rect x="59.75" y="387.2" width="0.7" height="0.7" fill="#aaa"/>
<rect x="64.55" y="387.2" width="0.7" height="0.7" fill="#aaa"/>
<rect x="67.75" y="387.2" width="0.7" height="0.7" fill="#aaa"/>
<rect x="69.35" y="387.2" width="0.7" height="0.7" fill="#aaa"/>
<rect x="72.55" y="387.2" width="0.7" height="0.7" fill="#aaa"/>
<rect x="74.15" y="387.2" width="0.7" height="0.7" fill="#aaa"/>
<rect x="77.35" y="387.2" width="0.7" height="0.7" fill="#aaa"/>
<rect x="80.55" y="387.2" width="0.7" height="0.7" fill="#aaa"/>
<rect x="56.95" y="389.4" width="0.7" height="0.7" fill="#aaa"/>
<rect x="58.55" y="389.4" width="0.7" height="0.7" fill="#aaa"/>
<rect x="63.35" y="389.4" width="0.7" height="0.7" fill="#aaa"/>
<rect x="68.15" y="389.4" width="0.7" height="0.7" fill="#aaa"/>
<rect x="72.95" y="389.4" width="0.7" height="0.7" fill="#aaa"/>
<rect x="76.15" y="389.4" width="0.7" height="0.7" fill="#aaa"/>
<rect x="77.75" y="389.4" width="0.7" height="0.7" fill="#aaa"/>
<rect x="84.15" y="389.4" width="0.7" height="0.7" fill="#aaa"/>
<rect x="85.75" y="389.4" width="0.7" height="0.7" fill="#aaa"/>
<rect x="58.39" y="391.6" width="0.7" height="0.7" fill="#aaa"/>
<rect x="59.99" y="391.6" width="0.7" height="0.7" fill="#aaa"/>
<rect x="61.59" y="391.6" width="0.7" height="0.7" fill="#aaa"/>
<rect x="64.79" y="391.6" width="0.7" height="0.7" fill="#aaa"/>
<rect x="71.19" y="391.6" width="0.7" height="0.7" fill="#aaa"/>
<rect x="74.39" y="391.6" width="0.7" height="0.7" fill="#aaa"/>
<rect x="75.99" y="391.6" width="0.7" height="0.7" fill="#aaa"/>
<rect x="77.59" y="391.6" width="0.7" height="0.7" fill="#aaa"/>
<rect x="80.79" y="391.6" width="0.7" height="0.7" fill="#aaa"/>
<rect x="82.39" y="391.6" width="0.7" height="0.7" fill="#aaa"/>
<rect x="85.59" y="391.6" width="0.7" height="0.7" fill="#aaa"/>
<rect x="58.48" y="393.8" width="0.7" height="0.7" fill="#aaa"/>
<rect x="61.68" y="393.8" width="0.7" height="0.7" fill="#aaa"/>
<rect x="68.08" y="393.8" width="0.7" height="0.7" fill="#aaa"/>
<rect x="71.28" y="393.8" width="0.7" height="0.7" fill="#aaa"/>
<rect x="72.88" y="393.8" width="0.7" height="0.7" fill="#aaa"/>
<rect x="74.48" y="393.8" width="0.7" height="0.7" fill="#aaa"/>
<rect x="79.28" y="393.8" width="0.7" height="0.7" fill="#aaa"/>
<rect x="80.88" y="393.8" width="0.7" height="0.7" fill="#aaa"/>
<rect x="85.68" y="393.8" width="0.7" height="0.7" fill="#aaa"/>
<rect x="58.26" y="396" width="0.7" height="0.7" fill="#aaa"/>
<rect x="61.46" y="396" width="0.7" height="0.7" fill="#aaa"/>
<rect x="63.06" y="396" width="0.7" height="0.7" fill="#aaa"/>
<rect x="64.66" y="396" width="0.7" height="0.7" fill="#aaa"/>
<rect x="66.26" y="396" width="0.7" height="0.7" fill="#aaa"/>
<rect x="67.86" y="396" width="0.7" height="0.7" fill="#aaa"/>
<rect x="71.06" y="396" width="0.7" height="0.7" fill="#aaa"/>
<rect x="72.66" y="396" width="0.7" height="0.7" fill="#aaa"/>
<rect x="79.06" y="396" width="0.7" height="0.7" fill="#aaa"/>
<rect x="82.26" y="396" width="0.7" height="0.7" fill="#aaa"/>
<rect x="83.86" y="396" width="0.7" height="0.7" fill="#aaa"/>
<rect x="85.46" y="396" width="0.7" height="0.7" fill="#aaa"/>
<rect x="56.84" y="398.2" width="0.7" height="0.7" fill="#aaa"/>
<rect x="58.44" y="398.2" width="0.7" height="0.7" fill="#aaa"/>
<rect x="60.04" y="398.2" width="0.7" height="0.7" fill="#aaa"/>
<rect x="61.64" y="398.2" width="0.7" height="0.7" fill="#aaa"/>
<rect x="63.24" y="398.2" width="0.7" height="0.7" fill="#aaa"/>
<rect x="66.44" y="398.2" width="0.7" height="0.7" fill="#aaa"/>
<rect x="68.04" y="398.2" width="0.7" height="0.7" fill="#aaa"/>
<rect x="72.84" y="398.2" width="0.7" height="0.7" fill="#aaa"/>
<rect x="77.64" y="398.2" width="0.7" height="0.7" fill="#aaa"/>
<rect x="79.24" y="398.2" width="0.7" height="0.7" fill="#aaa"/>
<rect x="82.44" y="398.2" width="0.7" height="0.7" fill="#aaa"/>
<rect x="58.07" y="400.4" width="0.7" height="0.7" fill="#aaa"/>
<rect x="61.27" y="400.4" width="0.7" height="0.7" fill="#aaa"/>
<rect x="64.47" y="400.4" width="0.7" height="0.7" fill="#aaa"/>
<rect x="66.07" y="400.4" width="0.7" height="0.7" fill="#aaa"/>
<rect x="67.67" y="400.4" width="0.7" height="0.7" fill="#aaa"/>
<rect x="69.27" y="400.4" width="0.7" height="0.7" fill="#aaa"/>
<rect x="70.87" y="400.4" width="0.7" height="0.7" fill="#aaa"/>
<rect x="72.47" y="400.4" width="0.7" height="0.7" fill="#aaa"/>
<rect x="74.07" y="400.4" width="0.7" height="0.7" fill="#aaa"/>
<rect x="75.67" y="400.4" width="0.7" height="0.7" fill="#aaa"/>
<rect x="77.27" y="400.4" width="0.7" height="0.7" fill="#aaa"/>
<rect x="78.87" y="400.4" width="0.7" height="0.7" fill="#aaa"/>
<rect x="80.47" y="400.4" width="0.7" height="0.7" fill="#aaa"/>
<rect x="83.67" y="400.4" width="0.7" height="0.7" fill="#aaa"/>
<rect x="85.27" y="400.4" width="0.7" height="0.7" fill="#aaa"/>
<rect x="56.91" y="402.6" width="0.7" height="0.7" fill="#aaa"/>
<rect x="58.51" y="402.6" width="0.7" height="0.7" fill="#aaa"/>
<rect x="60.11" y="402.6" width="0.7" height="0.7" fill="#aaa"/>
<rect x="63.31" y="402.6" width="0.7" height="0.7" fill="#aaa"/>
<rect x="64.91" y="402.6" width="0.7" height="0.7" fill="#aaa"/>
<rect x="71.31" y="402.6" width="0.7" height="0.7" fill="#aaa"/>
<rect x="74.51" y="402.6" width="0.7" height="0.7" fill="#aaa"/>
<rect x="77.71" y="402.6" width="0.7" height="0.7" fill="#aaa"/>
<rect x="80.91" y="402.6" width="0.7" height="0.7" fill="#aaa"/>
<rect x="82.51" y="402.6" width="0.7" height="0.7" fill="#aaa"/>
<rect x="84.11" y="402.6" width="0.7" height="0.7" fill="#aaa"/>
<rect x="85.71" y="402.6" width="0.7" height="0.7" fill="#aaa"/>
<rect x="60.03" y="404.8" width="0.7" height="0.7" fill="#aaa"/>
<rect x="61.63" y="404.8" width="0.7" height="0.7" fill="#aaa"/>
<rect x="64.83" y="404.8" width="0.7" height="0.7" fill="#aaa"/>
<rect x="66.43" y="404.8" width="0.7" height="0.7" fill="#aaa"/>
<rect x="69.63" y="404.8" width="0.7" height="0.7" fill="#aaa"/>
<rect x="74.43" y="404.8" width="0.7" height="0.7" fill="#aaa"/>
<rect x="77.63" y="404.8" width="0.7" height="0.7" fill="#aaa"/>
<rect x="80.83" y="404.8" width="0.7" height="0.7" fill="#aaa"/>
<rect x="82.43" y="404.8" width="0.7" height="0.7" fill="#aaa"/>
<rect x="84.03" y="404.8" width="0.7" height="0.7" fill="#aaa"/>
<rect x="60.04" y="407" width="0.7" height="0.7" fill="#aaa"/>
<rect x="61.64" y="407" width="0.7" height="0.7" fill="#aaa"/>
<rect x="64.84" y="407" width="0.7" height="0.7" fill="#aaa"/>
<rect x="68.04" y="407" width="0.7" height="0.7" fill="#aaa"/>
<rect x="69.64" y="407" width="0.7" height="0.7" fill="#aaa"/>
<rect x="71.24" y="407" width="0.7" height="0.7" fill="#aaa"/>
<rect x="74.44" y="407" width="0.7" height="0.7" fill="#aaa"/>
<rect x="84.04" y="407" width="0.7" height="0.7" fill="#aaa"/>
<rect x="56.34" y="409.2" width="0.7" height="0.7" fill="#aaa"/>
<rect x="57.94" y="409.2" width="0.7" height="0.7" fill="#aaa"/>
<rect x="59.54" y="409.2" width="0.7" height="0.7" fill="#aaa"/>
<rect x="61.14" y="409.2" width="0.7" height="0.7" fill="#aaa"/>
<rect x="62.74" y="409.2" width="0.7" height="0.7" fill="#aaa"/>
<rect x="65.94" y="409.2" width="0.7" height="0.7" fill="#aaa"/>
<rect x="67.54" y="409.2" width="0.7" height="0.7" fill="#aaa"/>
<rect x="73.94" y="409.2" width="0.7" height="0.7" fill="#aaa"/>
<rect x="75.54" y="409.2" width="0.7" height="0.7" fill="#aaa"/>
<rect x="78.74" y="409.2" width="0.7" height="0.7" fill="#aaa"/>
<rect x="80.34" y="409.2" width="0.7" height="0.7" fill="#aaa"/>
<rect x="81.94" y="409.2" width="0.7" height="0.7" fill="#aaa"/>
<rect x="85.14" y="409.2" width="0.7" height="0.7" fill="#aaa"/>
<rect x="56.77" y="411.4" width="0.7" height="0.7" fill="#aaa"/>
<rect x="58.37" y="411.4" width="0.7" height="0.7" fill="#aaa"/>
<rect x="59.97" y="411.4" width="0.7" height="0.7" fill="#aaa"/>
<rect x="61.57" y="411.4" width="0.7" height="0.7" fill="#aaa"/>
<rect x="63.17" y="411.4" width="0.7" height="0.7" fill="#aaa"/>
<rect x="66.37" y="411.4" width="0.7" height="0.7" fill="#aaa"/>
<rect x="67.97" y="411.4" width="0.7" height="0.7" fill="#aaa"/>
<rect x="69.57" y="411.4" width="0.7" height="0.7" fill="#aaa"/>
<rect x="71.17" y="411.4" width="0.7" height="0.7" fill="#aaa"/>
<rect x="72.77" y="411.4" width="0.7" height="0.7" fill="#aaa"/>
<rect x="75.97" y="411.4" width="0.7" height="0.7" fill="#aaa"/>
<rect x="77.57" y="411.4" width="0.7" height="0.7" fill="#aaa"/>
<rect x="80.77" y="411.4" width="0.7" height="0.7" fill="#aaa"/>
<rect x="82.37" y="411.4" width="0.7" height="0.7" fill="#aaa"/>
<rect x="56.27" y="413.6" width="0.7" height="0.7" fill="#aaa"/>
<rect x="57.87" y="413.6" width="0.7" height="0.7" fill="#aaa"/>
<rect x="59.47" y="413.6" width="0.7" height="0.7" fill="#aaa"/>
<rect x="61.07" y="413.6" width="0.7" height="0.7" fill="#aaa"/>
<rect x="65.87" y="413.6" width="0.7" height="0.7" fill="#aaa"/>
<rect x="67.47" y="413.6" width="0.7" height="0.7" fill="#aaa"/>
<rect x="69.07" y="413.6" width="0.7" height="0.7" fill="#aaa"/>
<rect x="73.87" y="413.6" width="0.7" height="0.7" fill="#aaa"/>
<rect x="75.47" y="413.6" width="0.7" height="0.7" fill="#aaa"/>
<rect x="77.07" y="413.6" width="0.7" height="0.7" fill="#aaa"/>
<rect x="78.67" y="413.6" width="0.7" height="0.7" fill="#aaa"/>
<rect x="80.27" y="413.6" width="0.7" height="0.7" fill="#aaa"/>
<rect x="85.07" y="413.6" width="0.7" height="0.7" fill="#aaa"/>
<rect x="56.42" y="415.8" width="0.7" height="0.7" fill="#aaa"/>
<rect x="59.62" y="415.8" width="0.7" height="0.7" fill="#aaa"/>
<rect x="66.02" y="415.8" width="0.7" height="0.7" fill="#aaa"/>
<rect x="69.22" y="415.8" width="0.7" height="0.7" fill="#aaa"/>
<rect x="78.82" y="415.8" width="0.7" height="0.7" fill="#aaa"/>
<rect x="82.02" y="415.8" width="0.7" height="0.7" fill="#aaa"/>
<rect x="83.62" y="415.8" width="0.7" height="0.7" fill="#aaa"/>
<rect x="56.17" y="418" width="0.7" height="0.7" fill="#aaa"/>
<rect x="57.77" y="418" width="0.7" height="0.7" fill="#aaa"/>
<rect x="59.37" y="418" width="0.7" height="0.7" fill="#aaa"/>
<rect x="64.17" y="418" width="0.7" height="0.7" fill="#aaa"/>
<rect x="65.77" y="418" width="0.7" height="0.7" fill="#aaa"/>
<rect x="67.37" y="418" width="0.7" height="0.7" fill="#aaa"/>
<rect x="68.97" y="418" width="0.7" height="0.7" fill="#aaa"/>
<rect x="70.57" y="418" width="0.7" height="0.7" fill="#aaa"/>
<rect x="73.77" y="418" width="0.7" height="0.7" fill="#aaa"/>
<rect x="76.97" y="418" width="0.7" height="0.7" fill="#aaa"/>
<rect x="78.57" y="418" width="0.7" height="0.7" fill="#aaa"/>
<rect x="80.17" y="418" width="0.7" height="0.7" fill="#aaa"/>
<rect x="81.77" y="418" width="0.7" height="0.7" fill="#aaa"/>
<rect x="83.37" y="418" width="0.7" height="0.7" fill="#aaa"/>
<rect x="56.43" y="420.2" width="0.7" height="0.7" fill="#aaa"/>
<rect x="58.03" y="420.2" width="0.7" height="0.7" fill="#aaa"/>
<rect x="59.63" y="420.2" width="0.7" height="0.7" fill="#aaa"/>
<rect x="61.23" y="420.2" width="0.7" height="0.7" fill="#aaa"/>
<rect x="62.83" y="420.2" width="0.7" height="0.7" fill="#aaa"/>
<rect x="64.43" y="420.2" width="0.7" height="0.7" fill="#aaa"/>
<rect x="70.83" y="420.2" width="0.7" height="0.7" fill="#aaa"/>
<rect x="72.43" y="420.2" width="0.7" height="0.7" fill="#aaa"/>
<rect x="74.03" y="420.2" width="0.7" height="0.7" fill="#aaa"/>
<rect x="75.63" y="420.2" width="0.7" height="0.7" fill="#aaa"/>
<rect x="77.23" y="420.2" width="0.7" height="0.7" fill="#aaa"/>
<rect x="78.83" y="420.2" width="0.7" height="0.7" fill="#aaa"/>
<rect x="82.03" y="420.2" width="0.7" height="0.7" fill="#aaa"/>
<rect x="85.23" y="420.2" width="0.7" height="0.7" fill="#aaa"/>
<rect x="56.74" y="422.4" width="0.7" height="0.7" fill="#aaa"/>
<rect x="59.94" y="422.4" width="0.7" height="0.7" fill="#aaa"/>
<rect x="61.54" y="422.4" width="0.7" height="0.7" fill="#aaa"/>
<rect x="63.14" y="422.4" width="0.7" height="0.7" fill="#aaa"/>
<rect x="64.74" y="422.4" width="0.7" height="0.7" fill="#aaa"/>
<rect x="66.34" y="422.4" width="0.7" height="0.7" fill="#aaa"/>
<rect x="67.94" y="422.4" width="0.7" height="0.7" fill="#aaa"/>
<rect x="69.54" y="422.4" width="0.7" height="0.7" fill="#aaa"/>
<rect x="72.74" y="422.4" width="0.7" height="0.7" fill="#aaa"/>
<rect x="77.54" y="422.4" width="0.7" height="0.7" fill="#aaa"/>
<rect x="82.34" y="422.4" width="0.7" height="0.7" fill="#aaa"/>
<rect x="85.54" y="422.4" width="0.7" height="0.7" fill="#aaa"/>
<rect x="56.6" y="424.6" width="0.7" height="0.7" fill="#aaa"/>
<rect x="59.8" y="424.6" width="0.7" height="0.7" fill="#aaa"/>
<rect x="63" y="424.6" width="0.7" height="0.7" fill="#aaa"/>
<rect x="64.6" y="424.6" width="0.7" height="0.7" fill="#aaa"/>
<rect x="66.2" y="424.6" width="0.7" height="0.7" fill="#aaa"/>
<rect x="69.4" y="424.6" width="0.7" height="0.7" fill="#aaa"/>
<rect x="72.6" y="424.6" width="0.7" height="0.7" fill="#aaa"/>
<rect x="74.2" y="424.6" width="0.7" height="0.7" fill="#aaa"/>
<rect x="77.4" y="424.6" width="0.7" height="0.7" fill="#aaa"/>
<rect x="80.6" y="424.6" width="0.7" height="0.7" fill="#aaa"/>
<rect x="82.2" y="424.6" width="0.7" height="0.7" fill="#aaa"/>
<rect x="140.39" y="385" width="0.7" height="0.7" fill="#aaa"/>
<rect x="143.59" y="385" width="0.7" height="0.7" fill="#aaa"/>
<rect x="146.79" y="385" width="0.7" height="0.7" fill="#aaa"/>
<rect x="148.39" y="385" width="0.7" height="0.7" fill="#aaa"/>
<rect x="151.59" y="385" width="0.7" height="0.7" fill="#aaa"/>
<rect x="156.39" y="385" width="0.7" height="0.7" fill="#aaa"/>
<rect x="157.99" y="385" width="0.7" height="0.7" fill="#aaa"/>
<rect x="159.59" y="385" width="0.7" height="0.7" fill="#aaa"/>
<rect x="161.19" y="385" width="0.7" height="0.7" fill="#aaa"/>
<rect x="162.79" y="385" width="0.7" height="0.7" fill="#aaa"/>
<rect x="135.79" y="387.2" width="0.7" height="0.7" fill="#aaa"/>
<rect x="138.99" y="387.2" width="0.7" height="0.7" fill="#aaa"/>
<rect x="142.19" y="387.2" width="0.7" height="0.7" fill="#aaa"/>
<rect x="143.79" y="387.2" width="0.7" height="0.7" fill="#aaa"/>
<rect x="145.39" y="387.2" width="0.7" height="0.7" fill="#aaa"/>
<rect x="148.59" y="387.2" width="0.7" height="0.7" fill="#aaa"/>
<rect x="150.19" y="387.2" width="0.7" height="0.7" fill="#aaa"/>
<rect x="151.79" y="387.2" width="0.7" height="0.7" fill="#aaa"/>
<rect x="153.39" y="387.2" width="0.7" height="0.7" fill="#aaa"/>
<rect x="154.99" y="387.2" width="0.7" height="0.7" fill="#aaa"/>
<rect x="156.59" y="387.2" width="0.7" height="0.7" fill="#aaa"/>
<rect x="158.19" y="387.2" width="0.7" height="0.7" fill="#aaa"/>
<rect x="159.79" y="387.2" width="0.7" height="0.7" fill="#aaa"/>
<rect x="161.39" y="387.2" width="0.7" height="0.7" fill="#aaa"/>
<rect x="136.99" y="389.4" width="0.7" height="0.7" fill="#aaa"/>
<rect x="138.59" y="389.4" width="0.7" height="0.7" fill="#aaa"/>
<rect x="140.19" y="389.4" width="0.7" height="0.7" fill="#aaa"/>
<rect x="141.79" y="389.4" width="0.7" height="0.7" fill="#aaa"/>
<rect x="146.59" y="389.4" width="0.7" height="0.7" fill="#aaa"/>
<rect x="148.19" y="389.4" width="0.7" height="0.7" fill="#aaa"/>
<rect x="149.79" y="389.4" width="0.7" height="0.7" fill="#aaa"/>
<rect x="151.39" y="389.4" width="0.7" height="0.7" fill="#aaa"/>
<rect x="152.99" y="389.4" width="0.7" height="0.7" fill="#aaa"/>
<rect x="154.59" y="389.4" width="0.7" height="0.7" fill="#aaa"/>
<rect x="157.79" y="389.4" width="0.7" height="0.7" fill="#aaa"/>
<rect x="159.39" y="389.4" width="0.7" height="0.7" fill="#aaa"/>
<rect x="160.99" y="389.4" width="0.7" height="0.7" fill="#aaa"/>
<rect x="162.59" y="389.4" width="0.7" height="0.7" fill="#aaa"/>
<rect x="135.73" y="391.6" width="0.7" height="0.7" fill="#aaa"/>
<rect x="137.33" y="391.6" width="0.7" height="0.7" fill="#aaa"/>
<rect x="138.93" y="391.6" width="0.7" height="0.7" fill="#aaa"/>
<rect x="143.73" y="391.6" width="0.7" height="0.7" fill="#aaa"/>
<rect x="145.33" y="391.6" width="0.7" height="0.7" fill="#aaa"/>
<rect x="148.53" y="391.6" width="0.7" height="0.7" fill="#aaa"/>
<rect x="151.73" y="391.6" width="0.7" height="0.7" fill="#aaa"/>
<rect x="153.33" y="391.6" width="0.7" height="0.7" fill="#aaa"/>
<rect x="154.93" y="391.6" width="0.7" height="0.7" fill="#aaa"/>
<rect x="158.13" y="391.6" width="0.7" height="0.7" fill="#aaa"/>
<rect x="159.73" y="391.6" width="0.7" height="0.7" fill="#aaa"/>
<rect x="162.93" y="391.6" width="0.7" height="0.7" fill="#aaa"/>
<rect x="135.8" y="393.8" width="0.7" height="0.7" fill="#aaa"/>
<rect x="137.4" y="393.8" width="0.7" height="0.7" fill="#aaa"/>
<rect x="140.6" y="393.8" width="0.7" height="0.7" fill="#aaa"/>
<rect x="142.2" y="393.8" width="0.7" height="0.7" fill="#aaa"/>
<rect x="143.8" y="393.8" width="0.7" height="0.7" fill="#aaa"/>
<rect x="150.2" y="393.8" width="0.7" height="0.7" fill="#aaa"/>
<rect x="151.8" y="393.8" width="0.7" height="0.7" fill="#aaa"/>
<rect x="158.2" y="393.8" width="0.7" height="0.7" fill="#aaa"/>
<rect x="163" y="393.8" width="0.7" height="0.7" fill="#aaa"/>
<rect x="135.85" y="396" width="0.7" height="0.7" fill="#aaa"/>
<rect x="140.65" y="396" width="0.7" height="0.7" fill="#aaa"/>
<rect x="147.05" y="396" width="0.7" height="0.7" fill="#aaa"/>
<rect x="148.65" y="396" width="0.7" height="0.7" fill="#aaa"/>
<rect x="153.45" y="396" width="0.7" height="0.7" fill="#aaa"/>
<rect x="155.05" y="396" width="0.7" height="0.7" fill="#aaa"/>
<rect x="158.25" y="396" width="0.7" height="0.7" fill="#aaa"/>
<rect x="159.85" y="396" width="0.7" height="0.7" fill="#aaa"/>
<rect x="163.05" y="396" width="0.7" height="0.7" fill="#aaa"/>
<rect x="139.02" y="398.2" width="0.7" height="0.7" fill="#aaa"/>
<rect x="140.62" y="398.2" width="0.7" height="0.7" fill="#aaa"/>
<rect x="142.22" y="398.2" width="0.7" height="0.7" fill="#aaa"/>
<rect x="145.42" y="398.2" width="0.7" height="0.7" fill="#aaa"/>
<rect x="148.62" y="398.2" width="0.7" height="0.7" fill="#aaa"/>
<rect x="153.42" y="398.2" width="0.7" height="0.7" fill="#aaa"/>
<rect x="155.02" y="398.2" width="0.7" height="0.7" fill="#aaa"/>
<rect x="156.62" y="398.2" width="0.7" height="0.7" fill="#aaa"/>
<rect x="163.02" y="398.2" width="0.7" height="0.7" fill="#aaa"/>
<rect x="140.25" y="400.4" width="0.7" height="0.7" fill="#aaa"/>
<rect x="143.45" y="400.4" width="0.7" height="0.7" fill="#aaa"/>
<rect x="145.05" y="400.4" width="0.7" height="0.7" fill="#aaa"/>
<rect x="146.65" y="400.4" width="0.7" height="0.7" fill="#aaa"/>
<rect x="149.85" y="400.4" width="0.7" height="0.7" fill="#aaa"/>
<rect x="153.05" y="400.4" width="0.7" height="0.7" fill="#aaa"/>
<rect x="156.25" y="400.4" width="0.7" height="0.7" fill="#aaa"/>
<rect x="157.85" y="400.4" width="0.7" height="0.7" fill="#aaa"/>
<rect x="135.24" y="402.6" width="0.7" height="0.7" fill="#aaa"/>
<rect x="136.84" y="402.6" width="0.7" height="0.7" fill="#aaa"/>
<rect x="138.44" y="402.6" width="0.7" height="0.7" fill="#aaa"/>
<rect x="140.04" y="402.6" width="0.7" height="0.7" fill="#aaa"/>
<rect x="141.64" y="402.6" width="0.7" height="0.7" fill="#aaa"/>
<rect x="146.44" y="402.6" width="0.7" height="0.7" fill="#aaa"/>
<rect x="148.04" y="402.6" width="0.7" height="0.7" fill="#aaa"/>
<rect x="149.64" y="402.6" width="0.7" height="0.7" fill="#aaa"/>
<rect x="151.24" y="402.6" width="0.7" height="0.7" fill="#aaa"/>
<rect x="152.84" y="402.6" width="0.7" height="0.7" fill="#aaa"/>
<rect x="154.44" y="402.6" width="0.7" height="0.7" fill="#aaa"/>
<rect x="157.64" y="402.6" width="0.7" height="0.7" fill="#aaa"/>
<rect x="159.24" y="402.6" width="0.7" height="0.7" fill="#aaa"/>
<rect x="162.44" y="402.6" width="0.7" height="0.7" fill="#aaa"/>
<rect x="135.6" y="404.8" width="0.7" height="0.7" fill="#aaa"/>
<rect x="137.2" y="404.8" width="0.7" height="0.7" fill="#aaa"/>
<rect x="138.8" y="404.8" width="0.7" height="0.7" fill="#aaa"/>
<rect x="140.4" y="404.8" width="0.7" height="0.7" fill="#aaa"/>
<rect x="142" y="404.8" width="0.7" height="0.7" fill="#aaa"/>
<rect x="143.6" y="404.8" width="0.7" height="0.7" fill="#aaa"/>
<rect x="145.2" y="404.8" width="0.7" height="0.7" fill="#aaa"/>
<rect x="146.8" y="404.8" width="0.7" height="0.7" fill="#aaa"/>
<rect x="148.4" y="404.8" width="0.7" height="0.7" fill="#aaa"/>
<rect x="150" y="404.8" width="0.7" height="0.7" fill="#aaa"/>
<rect x="151.6" y="404.8" width="0.7" height="0.7" fill="#aaa"/>
<rect x="153.2" y="404.8" width="0.7" height="0.7" fill="#aaa"/>
<rect x="154.8" y="404.8" width="0.7" height="0.7" fill="#aaa"/>
<rect x="156.4" y="404.8" width="0.7" height="0.7" fill="#aaa"/>
<rect x="158" y="404.8" width="0.7" height="0.7" fill="#aaa"/>
<rect x="159.6" y="404.8" width="0.7" height="0.7" fill="#aaa"/>
<rect x="135.11" y="407" width="0.7" height="0.7" fill="#aaa"/>
<rect x="138.31" y="407" width="0.7" height="0.7" fill="#aaa"/>
<rect x="139.91" y="407" width="0.7" height="0.7" fill="#aaa"/>
<rect x="141.51" y="407" width="0.7" height="0.7" fill="#aaa"/>
<rect x="143.11" y="407" width="0.7" height="0.7" fill="#aaa"/>
<rect x="144.71" y="407" width="0.7" height="0.7" fill="#aaa"/>
<rect x="147.91" y="407" width="0.7" height="0.7" fill="#aaa"/>
<rect x="151.11" y="407" width="0.7" height="0.7" fill="#aaa"/>
<rect x="152.71" y="407" width="0.7" height="0.7" fill="#aaa"/>
<rect x="154.31" y="407" width="0.7" height="0.7" fill="#aaa"/>
<rect x="135.68" y="409.2" width="0.7" height="0.7" fill="#aaa"/>
<rect x="137.28" y="409.2" width="0.7" height="0.7" fill="#aaa"/>
<rect x="138.88" y="409.2" width="0.7" height="0.7" fill="#aaa"/>
<rect x="145.28" y="409.2" width="0.7" height="0.7" fill="#aaa"/>
<rect x="150.08" y="409.2" width="0.7" height="0.7" fill="#aaa"/>
<rect x="151.68" y="409.2" width="0.7" height="0.7" fill="#aaa"/>
<rect x="153.28" y="409.2" width="0.7" height="0.7" fill="#aaa"/>
<rect x="154.88" y="409.2" width="0.7" height="0.7" fill="#aaa"/>
<rect x="156.48" y="409.2" width="0.7" height="0.7" fill="#aaa"/>
<rect x="161.28" y="409.2" width="0.7" height="0.7" fill="#aaa"/>
<rect x="162.88" y="409.2" width="0.7" height="0.7" fill="#aaa"/>
<rect x="135.92" y="411.4" width="0.7" height="0.7" fill="#aaa"/>
<rect x="137.52" y="411.4" width="0.7" height="0.7" fill="#aaa"/>
<rect x="139.12" y="411.4" width="0.7" height="0.7" fill="#aaa"/>
<rect x="143.92" y="411.4" width="0.7" height="0.7" fill="#aaa"/>
<rect x="150.32" y="411.4" width="0.7" height="0.7" fill="#aaa"/>
<rect x="153.52" y="411.4" width="0.7" height="0.7" fill="#aaa"/>
<rect x="156.72" y="411.4" width="0.7" height="0.7" fill="#aaa"/>
<rect x="158.32" y="411.4" width="0.7" height="0.7" fill="#aaa"/>
<rect x="161.52" y="411.4" width="0.7" height="0.7" fill="#aaa"/>
<rect x="163.12" y="411.4" width="0.7" height="0.7" fill="#aaa"/>
<rect x="137.08" y="413.6" width="0.7" height="0.7" fill="#aaa"/>
<rect x="138.68" y="413.6" width="0.7" height="0.7" fill="#aaa"/>
<rect x="140.28" y="413.6" width="0.7" height="0.7" fill="#aaa"/>
<rect x="141.88" y="413.6" width="0.7" height="0.7" fill="#aaa"/>
<rect x="143.48" y="413.6" width="0.7" height="0.7" fill="#aaa"/>
<rect x="145.08" y="413.6" width="0.7" height="0.7" fill="#aaa"/>
<rect x="146.68" y="413.6" width="0.7" height="0.7" fill="#aaa"/>
<rect x="149.88" y="413.6" width="0.7" height="0.7" fill="#aaa"/>
<rect x="156.28" y="413.6" width="0.7" height="0.7" fill="#aaa"/>
<rect x="157.88" y="413.6" width="0.7" height="0.7" fill="#aaa"/>
<rect x="159.48" y="413.6" width="0.7" height="0.7" fill="#aaa"/>
<rect x="161.08" y="413.6" width="0.7" height="0.7" fill="#aaa"/>
<rect x="162.68" y="413.6" width="0.7" height="0.7" fill="#aaa"/>
<rect x="135.87" y="415.8" width="0.7" height="0.7" fill="#aaa"/>
<rect x="137.47" y="415.8" width="0.7" height="0.7" fill="#aaa"/>
<rect x="140.67" y="415.8" width="0.7" height="0.7" fill="#aaa"/>
<rect x="142.27" y="415.8" width="0.7" height="0.7" fill="#aaa"/>
<rect x="145.47" y="415.8" width="0.7" height="0.7" fill="#aaa"/>
<rect x="147.07" y="415.8" width="0.7" height="0.7" fill="#aaa"/>
<rect x="148.67" y="415.8" width="0.7" height="0.7" fill="#aaa"/>
<rect x="151.87" y="415.8" width="0.7" height="0.7" fill="#aaa"/>
<rect x="155.07" y="415.8" width="0.7" height="0.7" fill="#aaa"/>
<rect x="156.67" y="415.8" width="0.7" height="0.7" fill="#aaa"/>
<rect x="163.07" y="415.8" width="0.7" height="0.7" fill="#aaa"/>
<rect x="135.3" y="418" width="0.7" height="0.7" fill="#aaa"/>
<rect x="138.5" y="418" width="0.7" height="0.7" fill="#aaa"/>
<rect x="140.1" y="418" width="0.7" height="0.7" fill="#aaa"/>
<rect x="141.7" y="418" width="0.7" height="0.7" fill="#aaa"/>
<rect x="143.3" y="418" width="0.7" height="0.7" fill="#aaa"/>
<rect x="146.5" y="418" width="0.7" height="0.7" fill="#aaa"/>
<rect x="149.7" y="418" width="0.7" height="0.7" fill="#aaa"/>
<rect x="154.5" y="418" width="0.7" height="0.7" fill="#aaa"/>
<rect x="160.9" y="418" width="0.7" height="0.7" fill="#aaa"/>
<rect x="162.5" y="418" width="0.7" height="0.7" fill="#aaa"/>
<rect x="136.82" y="420.2" width="0.7" height="0.7" fill="#aaa"/>
<rect x="138.42" y="420.2" width="0.7" height="0.7" fill="#aaa"/>
<rect x="140.02" y="420.2" width="0.7" height="0.7" fill="#aaa"/>
<rect x="141.62" y="420.2" width="0.7" height="0.7" fill="#aaa"/>
<rect x="143.22" y="420.2" width="0.7" height="0.7" fill="#aaa"/>
<rect x="148.02" y="420.2" width="0.7" height="0.7" fill="#aaa"/>
<rect x="149.62" y="420.2" width="0.7" height="0.7" fill="#aaa"/>
<rect x="151.22" y="420.2" width="0.7" height="0.7" fill="#aaa"/>
<rect x="154.42" y="420.2" width="0.7" height="0.7" fill="#aaa"/>
<rect x="159.22" y="420.2" width="0.7" height="0.7" fill="#aaa"/>
<rect x="135.66" y="422.4" width="0.7" height="0.7" fill="#aaa"/>
<rect x="137.26" y="422.4" width="0.7" height="0.7" fill="#aaa"/>
<rect x="140.46" y="422.4" width="0.7" height="0.7" fill="#aaa"/>
<rect x="143.66" y="422.4" width="0.7" height="0.7" fill="#aaa"/>
<rect x="145.26" y="422.4" width="0.7" height="0.7" fill="#aaa"/>
<rect x="146.86" y="422.4" width="0.7" height="0.7" fill="#aaa"/>
<rect x="151.66" y="422.4" width="0.7" height="0.7" fill="#aaa"/>
<rect x="153.26" y="422.4" width="0.7" height="0.7" fill="#aaa"/>
<rect x="154.86" y="422.4" width="0.7" height="0.7" fill="#aaa"/>
<rect x="156.46" y="422.4" width="0.7" height="0.7" fill="#aaa"/>
<rect x="158.06" y="422.4" width="0.7" height="0.7" fill="#aaa"/>
<rect x="135.44" y="424.6" width="0.7" height="0.7" fill="#aaa"/>
<rect x="137.04" y="424.6" width="0.7" height="0.7" fill="#aaa"/>
<rect x="138.64" y="424.6" width="0.7" height="0.7" fill="#aaa"/>
<rect x="140.24" y="424.6" width="0.7" height="0.7" fill="#aaa"/>
<rect x="141.84" y="424.6" width="0.7" height="0.7" fill="#aaa"/>
<rect x="143.44" y="424.6" width="0.7" height="0.7" fill="#aaa"/>
<rect x="146.64" y="424.6" width="0.7" height="0.7" fill="#aaa"/>
<rect x="149.84" y="424.6" width="0.7" height="0.7" fill="#aaa"/>
<rect x="151.44" y="424.6" width="0.7" height="0.7" fill="#aaa"/>
<rect x="153.04" y="424.6" width="0.7" height="0.7" fill="#aaa"/>
<rect x="156.24" y="424.6" width="0.7" height="0.7" fill="#aaa"/>
<rect x="157.84" y="424.6" width="0.7" height="0.7" fill="#aaa"/>
<rect x="159.44" y="424.6" width="0.7" height="0.7" fill="#aaa"/>
<text transform="translate(249.20,134.00) scale(0.78,1)" x="0" y="0" font-family="Liberation Sans" font-size="21.37" font-weight="normal" textLength="59.10" lengthAdjust="spacing" fill="#000" stroke="#000" stroke-width="0.55">BR. 2</text>
<text transform="translate(241.90,148.30) scale(1.0,1)" x="0" y="0" font-family="Liberation Sans" font-size="8.58" font-weight="normal" textLength="60.10" lengthAdjust="spacing" fill="#222" stroke="#222" stroke-width="0.2">10/0 X 12/8</text>
<text transform="translate(356.30,206.80) scale(0.78,1)" x="0" y="0" font-family="Liberation Sans" font-size="21.51" font-weight="normal" textLength="58.08" lengthAdjust="spacing" fill="#000" stroke="#000" stroke-width="0.55">BR. 3</text>
<text transform="translate(345.20,220.70) scale(1.0,1)" x="0" y="0" font-family="Liberation Sans" font-size="8.87" font-weight="normal" textLength="68.10" lengthAdjust="spacing" fill="#222" stroke="#222" stroke-width="0.2">11/0 X 12/8 -</text>
<text transform="translate(102.50,297.75) scale(1.0,1)" x="0" y="0" font-family="Liberation Sans" font-size="8.72" font-weight="normal" textLength="43.20" lengthAdjust="spacing" fill="#222" stroke="#222" stroke-width="0.2">VAULTED</text>
<text transform="translate(85.50,321.00) scale(0.85,1)" x="0" y="0" font-family="Liberation Sans" font-size="21.37" font-weight="normal" textLength="89.41" lengthAdjust="spacing" fill="#000" stroke="#000" stroke-width="0.55">MASTER</text>
<text transform="translate(84.85,334.20) scale(1.0,1)" x="0" y="0" font-family="Liberation Sans" font-size="9.38" font-weight="normal" textLength="77.65" lengthAdjust="spacing" fill="#222" stroke="#222" stroke-width="0.2">15/2 X 15/8 +/-</text>
<text transform="translate(251.00,338.70) scale(1.0,1)" x="0" y="0" font-family="Liberation Sans" font-size="9.30" font-weight="normal" textLength="45.00" lengthAdjust="spacing" fill="#222" stroke="#222" stroke-width="0.2">OPEN TO</text>
<text transform="translate(238.50,348.80) scale(1.0,1)" x="0" y="0" font-family="Liberation Sans" font-size="9.16" font-weight="normal" textLength="70.30" lengthAdjust="spacing" fill="#222" stroke="#222" stroke-width="0.2">FAMILY ROOM</text>
<text transform="translate(255.40,359.30) scale(1.0,1)" x="0" y="0" font-family="Liberation Sans" font-size="9.59" font-weight="normal" textLength="35.30" lengthAdjust="spacing" fill="#222" stroke="#222" stroke-width="0.2">BELOW</text>
<text transform="translate(96.20,413.40) scale(0.9,1)" x="0" y="0" font-family="Liberation Sans" font-size="14.83" font-weight="bold" textLength="38.22" lengthAdjust="spacing" fill="#000">DECK</text>
<text transform="translate(169.70,397.20) scale(1.0,1)" x="0" y="0" font-family="Liberation Sans" font-size="9.01" font-weight="normal" textLength="28.10" lengthAdjust="spacing" fill="#222" stroke="#222" stroke-width="0.2">STOR</text>
<text transform="translate(129.30,152.90) scale(1.0,1)" x="0" y="0" font-family="Liberation Sans" font-size="8.87" font-weight="normal" textLength="14.20" lengthAdjust="spacing" fill="#444" stroke="#444" stroke-width="0.35">SH.</text>
<text transform="translate(161.20,185.80) scale(1.0,1)" x="0" y="0" font-family="Liberation Sans" font-size="8.72" font-weight="normal" textLength="12.80" lengthAdjust="spacing" fill="#222" stroke="#222" stroke-width="0.2">DN</text>
<text transform="translate(277.20,236.60) scale(1.0,1)" x="0" y="0" font-family="Liberation Sans" font-size="7.70" font-weight="normal" textLength="20.60" lengthAdjust="spacing" fill="#222" stroke="#222" stroke-width="0.2">LINEN</text>
<rect x="0" y="0" width="1" height="1" fill="#9aa0b8"/>
</svg>
</body></html>
